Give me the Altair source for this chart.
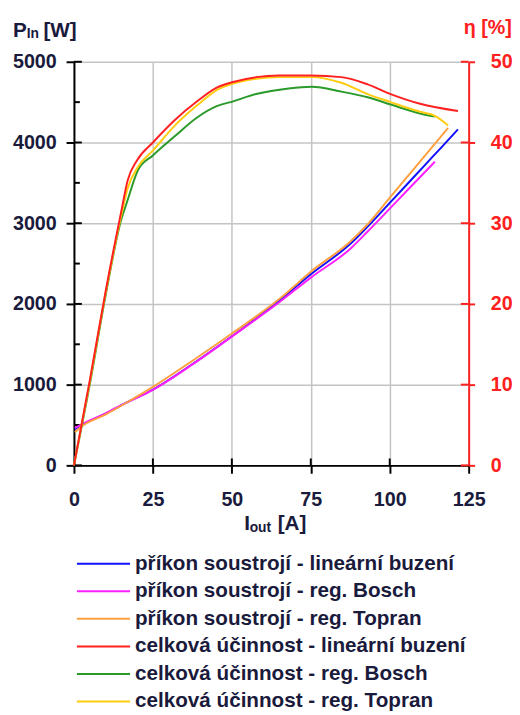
import altair as alt
import pandas as pd

# ---------------- data ----------------
series_names = [
    "příkon soustrojí - lineární buzení",
    "příkon soustrojí - reg. Bosch",
    "příkon soustrojí - reg. Topran",
    "celková účinnost - lineární buzení",
    "celková účinnost - reg. Bosch",
    "celková účinnost - reg. Topran",
]
series_colors = ["#1010ff", "#ff20ff", "#ffa040", "#ff2020", "#2a9a2a", "#ffcc10"]

# input power [W]
lin_p_I = [0.3, 2, 10, 16.6, 25, 37.9, 50, 65, 75, 87.8, 93, 100.3, 104.4, 110.7, 116, 121.6]
lin_p_P = [450, 490, 640, 776, 939, 1265, 1600, 2040, 2367, 2754, 2958, 3264, 3436, 3702, 3925, 4162]

bos_p_I = [0.3, 2, 10, 16.6, 25, 37.9, 50, 65, 75, 87.8, 93, 100.3, 105.5, 114.3]
bos_p_P = [465, 500, 645, 776, 935, 1260, 1595, 2020, 2326, 2693, 2897, 3193, 3405, 3762]

top_p_I = [0.3, 2, 10, 16.6, 25, 37.9, 50, 65, 75, 87.8, 93, 100.3, 104.4, 110.7, 118.5]
top_p_P = [410, 470, 630, 776, 972, 1306, 1633, 2060, 2399, 2783, 2987, 3329, 3521, 3816, 4182]

# overall efficiency [%]
lin_e_I = [0, 5, 10, 15, 17, 20, 25, 31.7, 39, 45.2, 50.4, 57.7, 65, 75, 84.7, 93, 100.3, 109.6, 121.6]
lin_e_E = [0, 10.5, 21.5, 31.5, 35.3, 37.8, 40.0, 42.7, 45.1, 46.8, 47.5, 48.1, 48.3, 48.3, 48.1, 47.2, 46.0, 44.8, 43.9]

bos_e_I = [0, 5, 10, 15, 16.7, 20.3, 25, 31.7, 39, 45.2, 50.4, 57.7, 68, 75.3, 84.7, 93, 100.3, 109.6, 114.3]
bos_e_E = [0, 10.0, 21.0, 30.5, 32.5, 36.6, 38.4, 40.7, 43.1, 44.5, 45.1, 46.0, 46.7, 46.9, 46.3, 45.6, 44.7, 43.6, 43.2]

top_e_I = [0, 5, 10, 15, 17, 20.3, 25, 31.7, 39, 45.2, 50.4, 57.7, 65, 75.3, 84.7, 93, 100.3, 105.5, 109.6, 114.3, 118.5]
top_e_E = [0, 10.3, 21.3, 31.0, 34.3, 37.0, 39.0, 42.0, 44.6, 46.5, 47.3, 47.9, 48.1, 48.1, 47.4, 46.0, 45.0, 44.3, 43.8, 43.3, 42.1]

x_ticks = [0, 25, 50, 75, 100, 125]
p_ticks = [0, 1000, 2000, 3000, 4000, 5000]
p_minor = [500, 1500, 2500, 3500, 4500]
e_ticks = [0, 10, 20, 30, 40, 50]

# ---------------- tables ----------------
def long(I, V, name, vcol):
    return pd.DataFrame({"I": I, vcol: V, "series": name})

pdf = pd.concat([
    long(lin_p_I, lin_p_P, series_names[0], "P"),
    long(bos_p_I, bos_p_P, series_names[1], "P"),
    long(top_p_I, top_p_P, series_names[2], "P"),
], ignore_index=True)
edf = pd.concat([
    long(bos_e_I, bos_e_E, series_names[4], "E"),
    long(top_e_I, top_e_E, series_names[5], "E"),
    long(lin_e_I, lin_e_E, series_names[3], "E"),
], ignore_index=True)

W, H = 401, 410
FONT = "Liberation Sans"
INK = "#1a1a3c"
RED = "#ff2020"

xscale = alt.Scale(domain=[0, 125], nice=False, zero=False)
pscale = alt.Scale(domain=[0, 5000], nice=False)
escale = alt.Scale(domain=[0, 50], nice=False)

legend = alt.Legend(
    orient="none", legendX=2, legendY=496, direction="vertical", title=None,
    symbolType="stroke", symbolSize=2916, symbolStrokeWidth=2,
    labelFont=FONT, labelFontSize=21, labelFontWeight="bold", labelColor=INK,
    labelLimit=0, labelOffset=4, clipHeight=27.8, rowPadding=0, padding=0,
)
color = alt.Color("series:N", scale=alt.Scale(domain=series_names, range=series_colors),
                  legend=legend, sort=series_names)

x_axis = alt.Axis(
    values=x_ticks, title=None, grid=True, gridColor="#c4c4c4", gridWidth=1.5,
    domainColor="black", domainWidth=2, tickColor="black", tickWidth=2, tickSize=8,
    labelFont=FONT, labelFontSize=20, labelFontWeight="bold", labelColor=INK,
    labelPadding=17, labelFlush=False, format="d",
)
p_axis = alt.Axis(
    orient="left", values=p_ticks, title=None, grid=True, gridColor="#c4c4c4", gridWidth=1.5,
    domainColor="black", domainWidth=2, tickColor="black", tickWidth=2, tickSize=8,
    labelFont=FONT, labelFontSize=20, labelFontWeight="bold", labelColor=INK,
    labelPadding=10, format="d",
)
e_axis = alt.Axis(
    orient="right", values=e_ticks, title=None, grid=False,
    domainColor=RED, domainWidth=2, tickColor=RED, tickWidth=2, tickSize=6,
    labelFont=FONT, labelFontSize=20, labelFontWeight="bold", labelColor=RED,
    labelPadding=16, format="d",
)

power = alt.Chart(pdf).mark_line(strokeWidth=2, interpolate="monotone").encode(
    x=alt.X("I:Q", scale=xscale, axis=x_axis),
    y=alt.Y("P:Q", scale=pscale, axis=p_axis),
    color=color,
    order=alt.Order("I:Q"),
)

left_major = alt.Chart(pd.DataFrame({"v": p_ticks})).mark_rule(color="black", strokeWidth=2).encode(
    y=alt.Y("v:Q", scale=pscale, axis=p_axis), x=alt.value(0), x2=alt.value(8))
left_minor = alt.Chart(pd.DataFrame({"v": p_minor})).mark_rule(color="black", strokeWidth=2).encode(
    y=alt.Y("v:Q", scale=pscale, axis=p_axis), x=alt.value(0), x2=alt.value(6))
bottom_in = alt.Chart(pd.DataFrame({"v": x_ticks[1:-1]})).mark_rule(color="black", strokeWidth=2).encode(
    x=alt.X("v:Q", scale=xscale, axis=x_axis), y=alt.value(H - 7), y2=alt.value(H))

def txt(s, x, y, size, col=INK):
    return alt.Chart(pd.DataFrame({"t": [s]})).mark_text(
        align="left", baseline="alphabetic", font=FONT, fontSize=size, fontWeight="bold", color=col
    ).encode(text="t:N", x=alt.value(x), y=alt.value(y))

titles = [
    txt("P", -62, -25.5, 21),
    txt("In", -48, -23.7, 14),
    txt("[W]", -31, -25.5, 21),
    txt("I", 173, 475.5, 21),
    txt("out", 178.5, 478, 14),
    txt("[A]", 207, 475.5, 21),
    txt("η [%]", 396, -28, 20, RED),
]

left_group = alt.layer(left_major, left_minor, bottom_in, power, *titles)

eff = alt.Chart(edf).mark_line(strokeWidth=2, interpolate="monotone").encode(
    x=alt.X("I:Q", scale=xscale, axis=x_axis),
    y=alt.Y("E:Q", scale=escale, axis=e_axis),
    color=color,
    order=alt.Order("I:Q"),
)
right_in = alt.Chart(pd.DataFrame({"v": e_ticks})).mark_rule(color=RED, strokeWidth=2).encode(
    y=alt.Y("v:Q", scale=escale, axis=e_axis), x=alt.value(W - 8), x2=alt.value(W))
right_group = alt.layer(right_in, eff)

chart = alt.layer(left_group, right_group).resolve_scale(y="independent").properties(
    width=W, height=H,
    autosize=alt.AutoSizeParams(type="none"),
    padding={"left": 67, "top": 49, "right": 44, "bottom": 250},
).configure_view(stroke=None)

chart.save("out.html", embed_options={"renderer": "svg", "actions": False})
